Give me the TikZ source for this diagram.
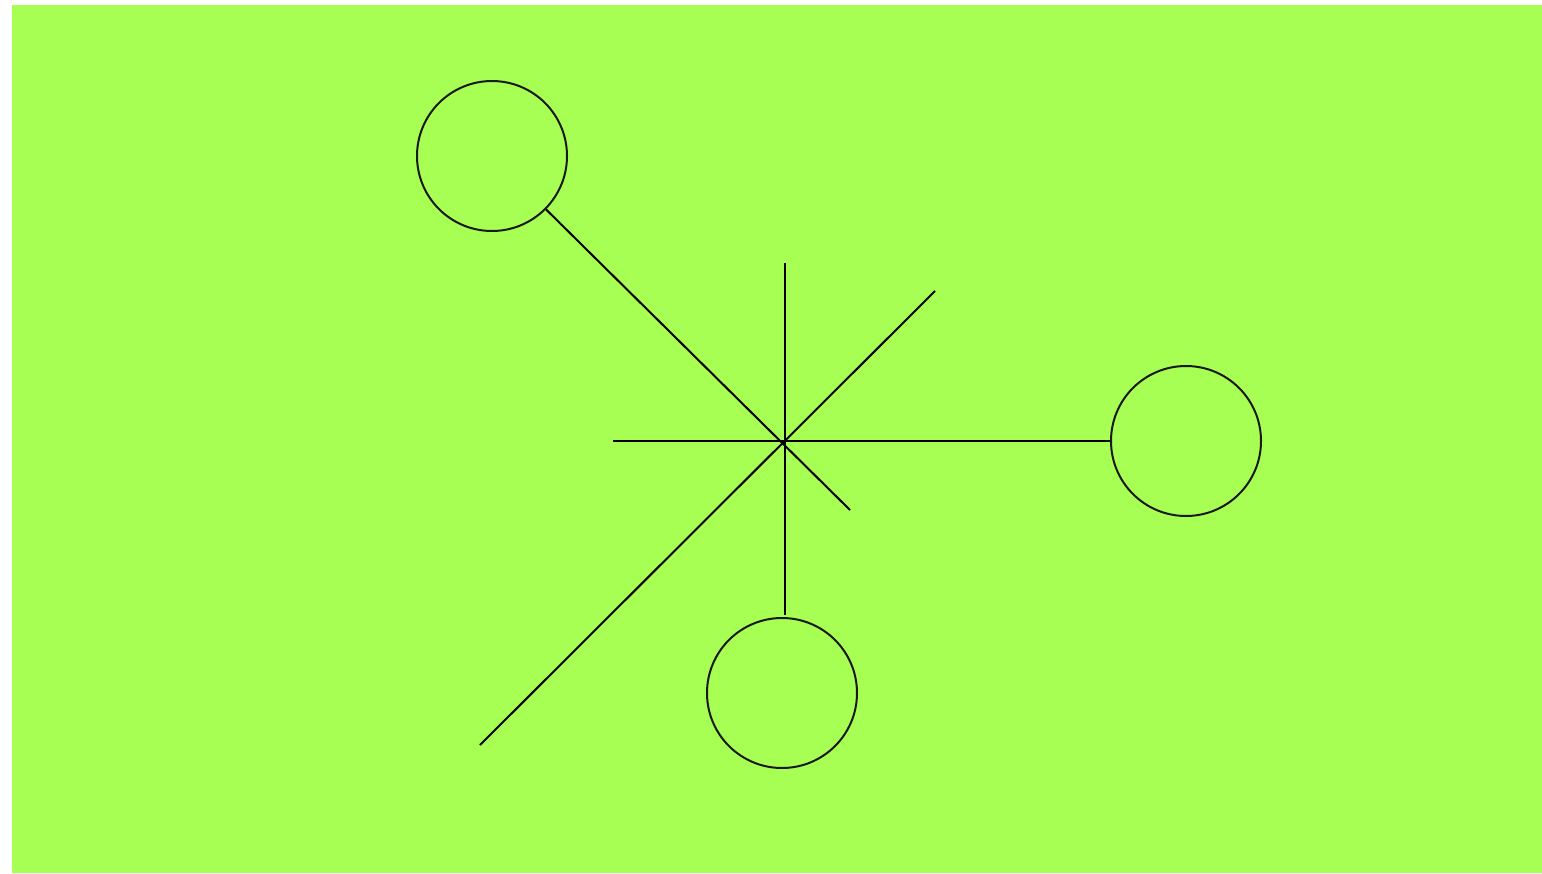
\documentclass[tikz,border=0pt]{standalone}
\definecolor{bggreen}{RGB}{166,255,82}
\begin{document}
\begin{tikzpicture}[x=1pt,y=-1pt,
  ring/.style={circle,draw=black!90,line width=2pt,minimum size=150pt,inner sep=0pt},
  link/.style={draw=black,line width=2pt}]
\useasboundingbox (0,0) rectangle (1542,873);
\fill[bggreen] (12,5) rectangle (1542,873);
\node[ring] (tl) at (492,156) {};
\node[ring] (rt) at (1186,441) {};
\node[ring] (bt) at (782,693) {};
\coordinate (c) at (785,441);
\coordinate (se) at (850,510);
\coordinate (ne) at (935,291);
\coordinate (sw) at (480,745);
\coordinate (w) at (613,441);
\coordinate (n) at (785,263);
\coordinate (s) at (785,615);
\path[link] (tl) -- (se);
\path[link] (w) -- (rt.west);
\path[link] (n) -- (s);
\path[link] (sw) -- (ne);
\end{tikzpicture}
\end{document}
